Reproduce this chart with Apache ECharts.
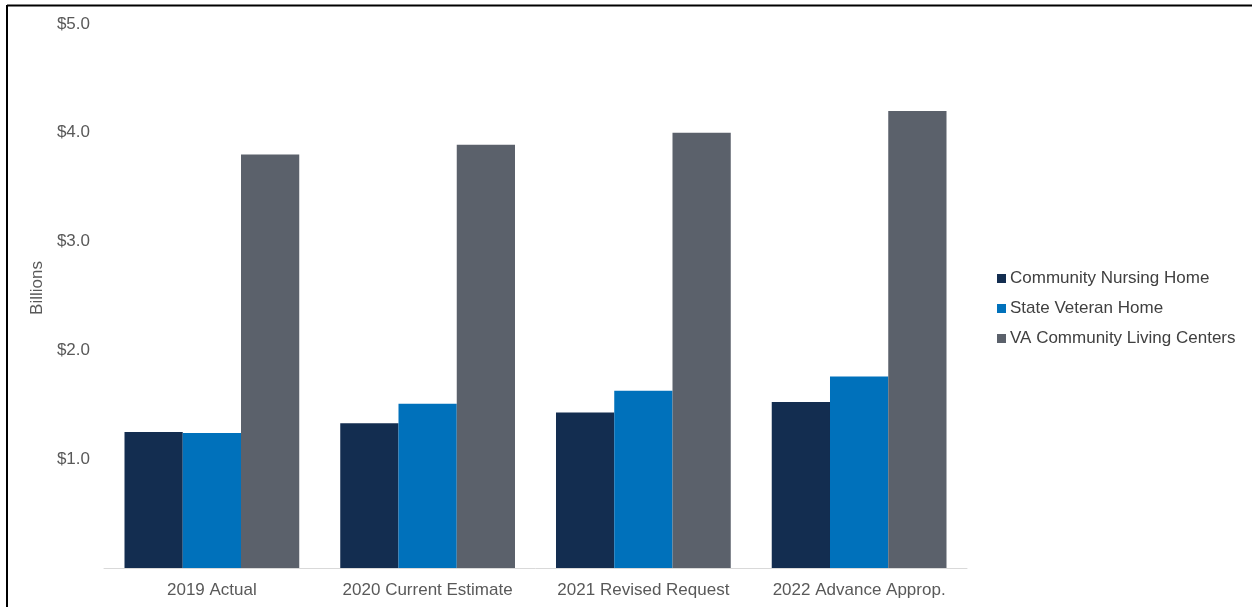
<!DOCTYPE html>
<html><head><meta charset="utf-8">
<script src="https://cdn.jsdelivr.net/npm/echarts@6/dist/echarts.min.js"></script>
<style>html,body{margin:0;padding:0;background:#fff}#c{width:1252px;height:607px}</style>
</head><body><div id="c"></div>
<script>
const categories = ['2019 Actual', '2020 Current Estimate', '2021 Revised Request', '2022 Advance Approp.'];
const communityNursingHome = [1.25, 1.33, 1.43, 1.525];
const stateVeteranHome = [1.24, 1.51, 1.63, 1.76];
const vaCommunityLivingCenters = [3.80, 3.89, 4.00, 4.20];
const seriesNames = ['Community Nursing Home', 'State Veteran Home', 'VA Community Living Centers'];
const colors = ['#132d50', '#0071bb', '#5b616b'];

const chart = echarts.init(document.getElementById('c'));
const font = 'Liberation Sans, Arial, sans-serif';
chart.setOption({
  animation: false,
  color: colors,
  textStyle: { fontFamily: font },
  grid: { left: 104, right: 285, top: 24, bottom: 39 },
  legend: {
    orient: 'vertical', left: 992, top: 265,
    itemWidth: 9, itemHeight: 9, itemGap: 13,
    icon: 'rect',
    textStyle: { fontSize: 17, color: '#404040', fontFamily: font, padding: [0, 0, 0, -1] },
    data: seriesNames
  },
  xAxis: {
    type: 'category', data: categories,
    axisLine: { lineStyle: { color: '#d9d9d9', width: 1 } },
    axisTick: { show: false },
    axisLabel: { interval: 0, hideOverlap: false, fontSize: 17, color: '#595959', margin: 14, fontFamily: font }
  },
  yAxis: {
    type: 'value', min: 0, max: 5, interval: 1,
    name: 'Billions', nameLocation: 'middle', nameGap: 54, nameRotate: 90,
    nameTextStyle: { fontSize: 17, color: '#595959', fontFamily: font, padding: [0, 0, 0, 16] },
    splitLine: { show: false },
    axisLine: { show: false }, axisTick: { show: false },
    axisLabel: {
      fontSize: 17, color: '#595959', margin: 14, fontFamily: font,
      formatter: v => v === 0 ? '' : '$' + v.toFixed(1)
    }
  },
  series: [
    { name: seriesNames[0], type: 'bar', data: communityNursingHome, barGap: '0%', barCategoryGap: '19%' },
    { name: seriesNames[1], type: 'bar', data: stateVeteranHome, barGap: '0%', barCategoryGap: '19%' },
    { name: seriesNames[2], type: 'bar', data: vaCommunityLivingCenters, barGap: '0%', barCategoryGap: '19%' }
  ],
  graphic: [
    { type: 'line', shape: { x1: 7, y1: 5.5, x2: 1252, y2: 5.5 }, style: { stroke: '#000', lineWidth: 2 } },
    { type: 'line', shape: { x1: 7, y1: 5, x2: 7, y2: 607 }, style: { stroke: '#000', lineWidth: 2 } }
  ]
});
</script></body></html>
